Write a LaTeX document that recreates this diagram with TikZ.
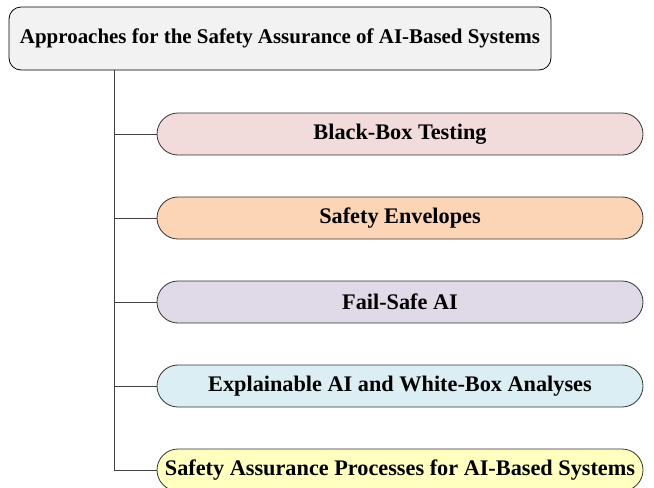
\documentclass[tikz,border=0pt]{standalone}
\usepackage{fontspec}
\setmainfont{Liberation Serif}
\usetikzlibrary{calc}
\definecolor{rootfill}{HTML}{F2F2F2}
\definecolor{pinkfill}{HTML}{F2DCDB}
\definecolor{orangefill}{HTML}{FBD5B5}
\definecolor{lilacfill}{HTML}{E0D9E8}
\definecolor{bluefill}{HTML}{DBEEF3}
\definecolor{yellowfill}{HTML}{FFFFC0}
\definecolor{linegray}{HTML}{404040}
\begin{document}
\begin{tikzpicture}[x=0.75pt, y=-0.75pt,
	rootbox/.style={draw=black, line width=0.6pt, fill=rootfill, rounded corners=9pt,
		minimum width=406.5pt, minimum height=47.25pt, inner sep=0pt,
		font=\fontsize{15.7}{18}\selectfont\bfseries},
	approach/.style={draw=black!80, line width=0.6pt, rounded corners=15.75pt,
		minimum width=364.5pt, minimum height=31.5pt, inner sep=0pt,
		font=\fontsize{16.7}{19}\selectfont\bfseries},
	branch/.style={draw=linegray, line width=0.6pt}]
			%%%%% START %%%%%
			\useasboundingbox (0, 0) rectangle (654, 487);
			
			\node[rootbox] (title) at (280, 38.5) {Approaches for the Safety Assurance of AI-Based Systems};
			
			\node[approach, fill=pinkfill] (blackbox) at (400, 134) {Black-Box Testing};
			\node[approach, fill=orangefill] (envelope) at (400, 218) {Safety Envelopes};
			\node[approach, fill=lilacfill] (failsafe) at (400, 302) {Fail-Safe AI};
			\node[approach, fill=bluefill] (whitebox) at (400, 386) {Explainable AI and White-Box Analyses};
			\node[approach, fill=yellowfill] (process) at (400, 470) {Safety Assurance Processes for AI-Based Systems};
			
			\coordinate (trunk) at ($(title.south west)+(106, 0)$);
			
			\foreach \leaf in {blackbox, envelope, failsafe, whitebox, process}
				\draw[branch] (trunk) |- (\leaf.west);
			
			%%%%% END %%%%%
\end{tikzpicture}
\end{document}
